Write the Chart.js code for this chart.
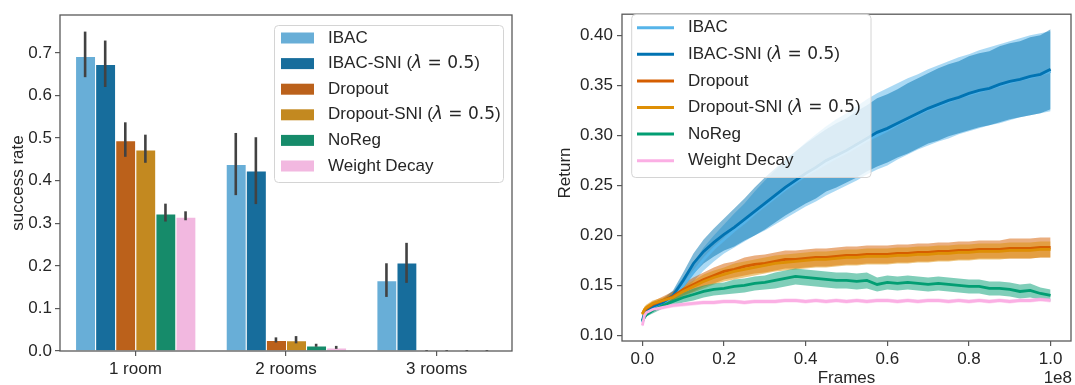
<!DOCTYPE html>
<html>
<head>
<meta charset="utf-8">
<script src="https://cdn.jsdelivr.net/npm/chart.js@4.4.1/dist/chart.umd.min.js"></script>
<style>
  html, body { margin: 0; padding: 0; background: #ffffff; }
  #wrap { position: relative; width: 1075px; height: 385px; overflow: hidden; }
  #barCanvas { position: absolute; left: 0; top: 0; width: 540px; height: 385px; }
  #lineCanvas { position: absolute; left: 540px; top: 0; width: 535px; height: 385px; }
</style>
</head>
<body>
<div id="wrap">
  <canvas id="barCanvas" width="540" height="385"></canvas>
  <canvas id="lineCanvas" width="535" height="385"></canvas>
</div>
<script>
// ---------- success rate per environment size (mean, CI low, CI high) ----------
const rooms = ['1 room', '2 rooms', '3 rooms'];
const methodNames = ['IBAC', 'IBAC-SNI (λ = 0.5)', 'Dropout', 'Dropout-SNI (λ = 0.5)', 'NoReg', 'Weight Decay'];

const rateIBAC        = [0.693, 0.439, 0.166];
const rateIBACLow     = [0.643, 0.366, 0.127];
const rateIBACHigh    = [0.750, 0.512, 0.206];
const rateIBACSNI     = [0.674, 0.424, 0.208];
const rateIBACSNILow  = [0.620, 0.345, 0.160];
const rateIBACSNIHigh = [0.729, 0.502, 0.254];
const rateDropout     = [0.495, 0.026, 0.000];
const rateDropoutLow  = [0.456, 0.020, 0.000];
const rateDropoutHigh = [0.537, 0.032, 0.002];
const rateDropSNI     = [0.473, 0.025, 0.000];
const rateDropSNILow  = [0.442, 0.018, 0.000];
const rateDropSNIHigh = [0.508, 0.035, 0.002];
const rateNoReg       = [0.323, 0.013, 0.000];
const rateNoRegLow    = [0.304, 0.010, 0.000];
const rateNoRegHigh   = [0.346, 0.017, 0.002];
const rateWD          = [0.315, 0.008, 0.000];
const rateWDLow       = [0.307, 0.005, 0.000];
const rateWDHigh      = [0.328, 0.012, 0.002];

const rateTicks = [0, 0.1, 0.2, 0.3, 0.4, 0.5, 0.6, 0.7];

// ---------- training return vs frames (millions of frames) ----------
const framesM = [0, 0.5, 1, 2.5, 5, 7.5, 10, 12.5, 15, 17.5, 20, 22.5, 25, 27.5, 30, 32.5, 35, 37.5, 40, 42.5,
  45, 47.5, 50, 52.5, 55, 57.5, 60, 62.5, 65, 67.5, 70, 72.5, 75, 77.5, 80, 82.5, 85, 87.5, 90, 92.5, 95, 97.5, 100];

const retIBAC = [0.113,0.120,0.123,0.128,0.132,0.139,0.150,0.163,0.176,0.187,0.196,0.205,0.213,0.222,0.230,0.238,0.246,0.253,0.260,0.266,
  0.272,0.278,0.283,0.289,0.295,0.300,0.305,0.311,0.316,0.321,0.326,0.330,0.334,0.338,0.341,0.344,0.347,0.350,0.353,0.356,0.358,0.361,0.364];
const retIBACLow = [0.109,0.116,0.119,0.124,0.128,0.134,0.143,0.154,0.165,0.174,0.182,0.188,0.194,0.200,0.205,0.211,0.217,0.223,0.229,0.234,
  0.240,0.245,0.250,0.255,0.261,0.266,0.270,0.276,0.281,0.286,0.290,0.294,0.297,0.301,0.304,0.307,0.310,0.312,0.315,0.318,0.320,0.322,0.324];
const retIBACHigh = [0.117,0.124,0.127,0.132,0.136,0.144,0.158,0.173,0.188,0.200,0.211,0.222,0.232,0.244,0.255,0.265,0.275,0.284,0.293,0.301,
  0.309,0.316,0.322,0.329,0.336,0.342,0.347,0.352,0.357,0.361,0.366,0.370,0.374,0.378,0.381,0.385,0.388,0.391,0.394,0.397,0.400,0.402,0.404];

const retIBACSNI = [0.115,0.122,0.125,0.129,0.133,0.140,0.155,0.172,0.184,0.193,0.201,0.208,0.216,0.224,0.232,0.240,0.248,0.255,0.262,0.268,
  0.275,0.280,0.285,0.291,0.297,0.303,0.307,0.312,0.317,0.322,0.327,0.331,0.335,0.338,0.342,0.345,0.347,0.351,0.354,0.356,0.359,0.361,0.366];
const retIBACSNILow = [0.111,0.118,0.121,0.125,0.129,0.135,0.147,0.162,0.172,0.179,0.185,0.189,0.195,0.200,0.206,0.213,0.220,0.226,0.232,0.237,
  0.244,0.248,0.253,0.258,0.264,0.269,0.273,0.278,0.282,0.287,0.292,0.295,0.299,0.302,0.305,0.308,0.310,0.313,0.316,0.318,0.320,0.322,0.326];
const retIBACSNIHigh = [0.119,0.126,0.129,0.133,0.137,0.145,0.163,0.182,0.196,0.207,0.217,0.227,0.237,0.248,0.258,0.267,0.276,0.284,0.292,0.299,
  0.306,0.312,0.317,0.324,0.330,0.337,0.341,0.346,0.352,0.357,0.362,0.367,0.371,0.374,0.379,0.382,0.384,0.389,0.392,0.394,0.398,0.400,0.406];

const retDropout = [0.122,0.125,0.127,0.131,0.135,0.139,0.146,0.151,0.156,0.160,0.164,0.166,0.169,0.171,0.172,0.174,0.176,0.176,0.177,0.178,
  0.178,0.179,0.180,0.180,0.181,0.181,0.181,0.182,0.182,0.183,0.183,0.184,0.184,0.185,0.185,0.186,0.186,0.186,0.187,0.187,0.187,0.188,0.188];
const retDropoutLow = [0.119,0.122,0.124,0.128,0.131,0.134,0.140,0.144,0.149,0.152,0.156,0.158,0.160,0.162,0.163,0.165,0.167,0.167,0.168,0.169,
  0.169,0.170,0.171,0.171,0.172,0.172,0.172,0.173,0.173,0.174,0.174,0.175,0.175,0.176,0.176,0.177,0.177,0.177,0.177,0.177,0.177,0.178,0.178];
const retDropoutHigh = [0.125,0.128,0.130,0.134,0.139,0.144,0.152,0.158,0.163,0.168,0.172,0.174,0.178,0.180,0.181,0.183,0.185,0.185,0.186,0.187,
  0.187,0.188,0.189,0.189,0.190,0.190,0.190,0.191,0.191,0.192,0.192,0.193,0.193,0.194,0.194,0.195,0.195,0.195,0.197,0.197,0.197,0.198,0.198];

const retDropSNI = [0.121,0.126,0.128,0.132,0.135,0.138,0.144,0.149,0.154,0.158,0.161,0.164,0.166,0.168,0.170,0.172,0.173,0.174,0.175,0.176,
  0.176,0.177,0.178,0.178,0.179,0.179,0.179,0.180,0.180,0.181,0.181,0.182,0.182,0.183,0.183,0.184,0.184,0.184,0.185,0.185,0.185,0.186,0.186];
const retDropSNILow = [0.118,0.123,0.125,0.129,0.132,0.134,0.139,0.143,0.147,0.151,0.154,0.156,0.158,0.160,0.162,0.164,0.165,0.166,0.167,0.168,
  0.168,0.169,0.170,0.170,0.171,0.171,0.171,0.172,0.172,0.173,0.173,0.174,0.174,0.175,0.175,0.176,0.176,0.176,0.177,0.177,0.177,0.178,0.178];
const retDropSNIHigh = [0.124,0.129,0.131,0.135,0.138,0.142,0.149,0.155,0.161,0.165,0.168,0.172,0.174,0.176,0.178,0.180,0.181,0.182,0.183,0.184,
  0.184,0.185,0.186,0.186,0.187,0.187,0.187,0.188,0.188,0.189,0.189,0.190,0.190,0.191,0.191,0.192,0.192,0.192,0.193,0.193,0.193,0.194,0.194];

const retNoReg = [0.114,0.118,0.121,0.125,0.130,0.134,0.138,0.141,0.144,0.146,0.147,0.149,0.150,0.152,0.153,0.155,0.157,0.159,0.158,0.157,
  0.156,0.155,0.155,0.154,0.155,0.151,0.153,0.152,0.153,0.152,0.151,0.152,0.151,0.150,0.149,0.149,0.147,0.147,0.146,0.144,0.145,0.142,0.140];
const retNoRegLow = [0.112,0.116,0.119,0.122,0.127,0.130,0.133,0.135,0.138,0.140,0.141,0.142,0.143,0.145,0.146,0.147,0.149,0.151,0.150,0.149,
  0.148,0.147,0.147,0.146,0.147,0.144,0.146,0.145,0.146,0.145,0.144,0.145,0.144,0.143,0.142,0.142,0.140,0.140,0.139,0.137,0.138,0.136,0.134];
const retNoRegHigh = [0.116,0.120,0.123,0.128,0.133,0.138,0.143,0.147,0.150,0.152,0.153,0.156,0.157,0.159,0.160,0.163,0.165,0.167,0.166,0.165,
  0.164,0.163,0.163,0.162,0.163,0.158,0.160,0.159,0.160,0.159,0.158,0.159,0.158,0.157,0.156,0.156,0.154,0.154,0.153,0.151,0.152,0.148,0.146];

const retWD = [0.110,0.120,0.123,0.126,0.128,0.130,0.131,0.132,0.133,0.133,0.134,0.134,0.133,0.134,0.134,0.134,0.135,0.135,0.134,0.135,
  0.134,0.135,0.134,0.135,0.134,0.135,0.135,0.134,0.135,0.134,0.135,0.135,0.134,0.135,0.134,0.135,0.134,0.135,0.134,0.135,0.135,0.136,0.135];
const retWDLow = [0.108,0.118,0.121,0.124,0.126,0.128,0.129,0.130,0.131,0.131,0.132,0.132,0.131,0.132,0.132,0.132,0.133,0.133,0.132,0.133,
  0.132,0.133,0.132,0.133,0.132,0.133,0.133,0.132,0.133,0.132,0.133,0.133,0.132,0.133,0.132,0.133,0.132,0.133,0.132,0.133,0.133,0.134,0.133];
const retWDHigh = [0.112,0.122,0.125,0.128,0.130,0.132,0.133,0.134,0.135,0.135,0.136,0.136,0.135,0.136,0.136,0.136,0.137,0.137,0.136,0.137,
  0.136,0.137,0.136,0.137,0.136,0.137,0.137,0.136,0.137,0.136,0.137,0.137,0.136,0.137,0.136,0.137,0.136,0.137,0.136,0.137,0.137,0.138,0.137];

const returnTicks = [0.10, 0.15, 0.20, 0.25, 0.30, 0.35, 0.40];
const frameTicksM = [0, 20, 40, 60, 80, 100];

// ---------- styling ----------
const FONT = "'Liberation Sans', Arial, sans-serif";
const TEXT = '#262626';
const SPINE = '#595959';
const FS = 17;
const barColors  = ['#68aed7', '#176d9c', '#bb611b', '#c38920', '#168b6a', '#f2b8e0'];
const lineColors = ['#56b4e9', '#0173b2', '#d55e00', '#de8f05', '#029e73', '#fbafe4'];

Chart.defaults.font.family = FONT;
Chart.defaults.font.size = FS;
Chart.defaults.color = TEXT;
Chart.defaults.animation = false;

function roundRectPath(ctx, x, y, w, h, r) {
  ctx.beginPath();
  ctx.moveTo(x + r, y);
  ctx.lineTo(x + w - r, y);
  ctx.arcTo(x + w, y, x + w, y + r, r);
  ctx.lineTo(x + w, y + h - r);
  ctx.arcTo(x + w, y + h, x + w - r, y + h, r);
  ctx.lineTo(x + r, y + h);
  ctx.arcTo(x, y + h, x, y + h - r, r);
  ctx.lineTo(x, y + r);
  ctx.arcTo(x, y, x + r, y, r);
  ctx.closePath();
}

// Label text; the lambda setting is typeset like math (italic symbol)
function drawLabel(ctx, text, x, y) {
  const parts = text.split(/(λ = 0\.5)/);
  let cx = x;
  ctx.textAlign = 'left';
  ctx.textBaseline = 'middle';
  ctx.fillStyle = TEXT;
  for (const p of parts) {
    if (!p) continue;
    if (p.charAt(0) === 'λ') {
      ctx.font = `italic ${FS}px 'DejaVu Sans'`;
      ctx.fillText('λ', cx, y);
      cx += ctx.measureText('λ').width;
      const rest = p.slice(1);
      ctx.font = `${FS}px 'DejaVu Sans'`;
      ctx.fillText(rest, cx, y);
      cx += ctx.measureText(rest).width;
    } else {
      ctx.font = `${FS}px ${FONT}`;
      ctx.fillText(p, cx, y);
      cx += ctx.measureText(p).width;
    }
  }
}

function drawFrame(chart) {
  const { ctx, chartArea: a } = chart;
  ctx.save();
  ctx.strokeStyle = SPINE;
  ctx.lineWidth = 1.3;
  ctx.strokeRect(a.left, a.top, a.right - a.left, a.bottom - a.top);
  ctx.restore();
}

function drawText(ctx, text, x, y, rot, align) {
  ctx.save();
  ctx.translate(x, y);
  if (rot) ctx.rotate(rot);
  ctx.font = `${FS}px ${FONT}`;
  ctx.fillStyle = TEXT;
  ctx.textAlign = align || 'center';
  ctx.textBaseline = 'middle';
  ctx.fillText(text, 0, 0);
  ctx.restore();
}

function fixedTicks(values) {
  return (scale) => { scale.ticks = values.map(v => ({ value: v })); };
}

// ---------- left panel: grouped bars with confidence intervals ----------
const barMeans = [rateIBAC, rateIBACSNI, rateDropout, rateDropSNI, rateNoReg, rateWD];
const barLows  = [rateIBACLow, rateIBACSNILow, rateDropoutLow, rateDropSNILow, rateNoRegLow, rateWDLow];
const barHighs = [rateIBACHigh, rateIBACSNIHigh, rateDropoutHigh, rateDropSNIHigh, rateNoRegHigh, rateWDHigh];

const barDecor = {
  id: 'barDecor',
  afterDatasetsDraw(chart) {
    const { ctx } = chart;
    const y = chart.scales.y;
    // confidence interval whiskers
    ctx.save();
    ctx.strokeStyle = '#424242';
    ctx.lineWidth = 2.6;
    chart.data.datasets.forEach((ds, di) => {
      const meta = chart.getDatasetMeta(di);
      meta.data.forEach((bar, i) => {
        ctx.beginPath();
        ctx.moveTo(bar.x, y.getPixelForValue(barLows[di][i]));
        ctx.lineTo(bar.x, y.getPixelForValue(barHighs[di][i]));
        ctx.stroke();
      });
    });
    ctx.restore();
    drawFrame(chart);
    // legend
    const lx = 274, ly = 25, lw = 229, lh = 157;
    ctx.save();
    roundRectPath(ctx, lx + 0.5, ly + 0.5, lw, lh, 4);
    ctx.fillStyle = 'rgba(255,255,255,0.8)';
    ctx.fill();
    ctx.strokeStyle = '#d4d4d4';
    ctx.lineWidth = 1;
    ctx.stroke();
    chart.data.datasets.forEach((ds, i) => {
      const cy = 38 + i * 25.6;
      ctx.fillStyle = ds.backgroundColor;
      ctx.fillRect(281, cy - 5.5, 33, 11);
      drawLabel(ctx, ds.label, 328, cy);
    });
    ctx.restore();
    drawText(ctx, 'success rate', 18, 183, -Math.PI / 2);
  }
};

new Chart(document.getElementById('barCanvas'), {
  type: 'bar',
  data: {
    labels: rooms,
    datasets: methodNames.map((name, i) => ({
      label: name,
      data: barMeans[i],
      backgroundColor: barColors[i],
      borderColor: '#ffffff',
      borderWidth: { left: 1, right: 0, top: 1, bottom: 0 },
      borderSkipped: false,
      categoryPercentage: 0.8,
      barPercentage: 1.0
    }))
  },
  options: {
    responsive: false,
    devicePixelRatio: 1,
    layout: { padding: { top: 15, right: 28, left: 0, bottom: 0 } },
    plugins: { legend: { display: false }, tooltip: { enabled: false } },
    scales: {
      x: {
        grid: { display: true, drawOnChartArea: false, drawTicks: true, tickLength: 5, color: SPINE, lineWidth: 1.2, offset: false },
        border: { display: false },
        ticks: { padding: 3, maxRotation: 0, color: TEXT, font: { size: FS } },
        afterFit: (s) => { s.height = 34; }
      },
      y: {
        min: 0, max: 0.789,
        afterBuildTicks: fixedTicks(rateTicks),
        grid: { display: true, drawOnChartArea: false, drawTicks: true, tickLength: 5, color: SPINE, lineWidth: 1.2 },
        border: { display: false },
        ticks: { padding: 3, color: TEXT, font: { size: FS }, callback: (v) => Number(v).toFixed(1) },
        afterFit: (s) => { s.width = 60; }
      }
    }
  },
  plugins: [barDecor]
});

// ---------- right panel: mean return with shaded confidence bands ----------
const lineMeans = [retIBAC, retIBACSNI, retDropout, retDropSNI, retNoReg, retWD];
const lineLows  = [retIBACLow, retIBACSNILow, retDropoutLow, retDropSNILow, retNoRegLow, retWDLow];
const lineHighs = [retIBACHigh, retIBACSNIHigh, retDropoutHigh, retDropSNIHigh, retNoRegHigh, retWDHigh];

function points(arr) { return arr.map((v, i) => ({ x: framesM[i] * 1e6, y: v })); }
function rgba(hex, a) {
  const n = parseInt(hex.slice(1), 16);
  return `rgba(${(n >> 16) & 255},${(n >> 8) & 255},${n & 255},${a})`;
}

const lineDatasets = [];
const bandBase = methodNames.length;
// mean lines: indices 0..5 (later series drawn on top)
methodNames.forEach((name, i) => {
  lineDatasets.push({
    label: name, data: points(lineMeans[i]), borderColor: lineColors[i], borderWidth: 2.8,
    pointRadius: 0, fill: false, tension: 0, order: 5 - i
  });
});
// band lower edges: indices 6..11 (invisible)
methodNames.forEach((name, i) => {
  lineDatasets.push({
    label: name + ' low', data: points(lineLows[i]), borderWidth: 0, borderColor: 'rgba(0,0,0,0)',
    pointRadius: 0, fill: false, tension: 0, order: 30
  });
});
// band upper edges filled down to the lower edges
methodNames.forEach((name, i) => {
  lineDatasets.push({
    label: name + ' high', data: points(lineHighs[i]), borderWidth: 0, borderColor: 'rgba(0,0,0,0)',
    backgroundColor: rgba(lineColors[i], 0.5),
    pointRadius: 0, fill: { target: bandBase + i }, tension: 0, order: 20 - i
  });
});

const lineDecor = {
  id: 'lineDecor',
  afterDatasetsDraw(chart) {
    const { ctx, chartArea: a } = chart;
    drawFrame(chart);
    // legend
    const lx = 91.7, ly = 14, lw = 239.3, lh = 163;
    ctx.save();
    roundRectPath(ctx, lx, ly + 0.5, lw, lh, 4);
    ctx.fillStyle = 'rgba(255,255,255,0.8)';
    ctx.fill();
    ctx.strokeStyle = '#d4d4d4';
    ctx.lineWidth = 1;
    ctx.stroke();
    methodNames.forEach((name, i) => {
      const cy = 27.7 + i * 26.6;
      ctx.strokeStyle = lineColors[i];
      ctx.lineWidth = 3;
      ctx.beginPath();
      ctx.moveTo(97, cy);
      ctx.lineTo(134, cy);
      ctx.stroke();
      drawLabel(ctx, name, 148, cy);
    });
    ctx.restore();
    drawText(ctx, 'Return', 25, 173, -Math.PI / 2);
    drawText(ctx, 'Frames', (a.left + a.right) / 2, 378, 0);
    drawText(ctx, '1e8', a.right + 1, 378, 0, 'right');
  }
};

new Chart(document.getElementById('lineCanvas'), {
  type: 'line',
  data: { datasets: lineDatasets },
  options: {
    responsive: false,
    devicePixelRatio: 1,
    layout: { padding: { top: 5, right: 4, left: 0, bottom: 0 } },
    plugins: { legend: { display: false }, tooltip: { enabled: false }, filler: { propagate: false } },
    scales: {
      x: {
        type: 'linear', min: -5e6, max: 105e6,
        afterBuildTicks: fixedTicks(frameTicksM.map(m => m * 1e6)),
        grid: { display: true, drawOnChartArea: false, drawTicks: true, tickLength: 5, color: SPINE, lineWidth: 1.2 },
        border: { display: false },
        ticks: { padding: 3, maxRotation: 0, autoSkip: false, color: TEXT, font: { size: FS }, callback: (v) => (v / 1e8).toFixed(1) },
        afterFit: (s) => { s.height = 44; }
      },
      y: {
        min: 0.0945, max: 0.4211,
        afterBuildTicks: fixedTicks(returnTicks),
        grid: { display: true, drawOnChartArea: false, drawTicks: true, tickLength: 5, color: SPINE, lineWidth: 1.2 },
        border: { display: false },
        ticks: { padding: 4, autoSkip: false, color: TEXT, font: { size: FS }, callback: (v) => Number(v).toFixed(2) },
        afterFit: (s) => { s.width = 82; }
      }
    }
  },
  plugins: [lineDecor]
});
</script>
</body>
</html>
